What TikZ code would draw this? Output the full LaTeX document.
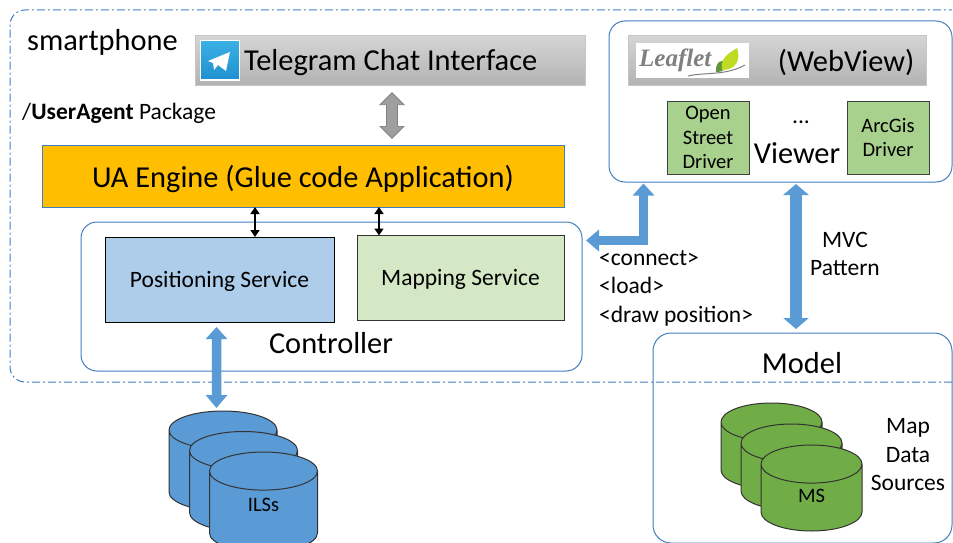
\documentclass[tikz,border=0pt]{standalone}
\usepackage{fontspec}
\setmainfont{Carlito}
\newfontfamily\logofont{Liberation Serif}
\usepackage{xcolor}
\usepackage{tikz}
\usetikzlibrary{positioning}
\usetikzlibrary{shapes,shapes.geometric,arrows.meta}
\definecolor{edgeblue}{HTML}{3F7FBF}
\definecolor{arrowblue}{HTML}{5B9BD5}
\definecolor{msgreen}{HTML}{70AD47}
\definecolor{drivergreen}{HTML}{A9D18E}
\definecolor{icontop}{HTML}{3BB0E3}
\definecolor{iconbot}{HTML}{1E90D0}
\newcommand{\bigtxt}{\fontsize{30.4}{34}\selectfont}
\newcommand{\midtxt}{\fontsize{23.5}{28.5}\selectfont}
\newcommand{\smalltxt}{\fontsize{20.5}{24.5}\selectfont}
\tikzstyle{block} = [rectangle, draw, inner sep=0pt, outer sep=0pt, text centered]
\tikzstyle{zone} = [block, draw=edgeblue, fill=white, rounded corners=16pt, line width=1pt]
\tikzstyle{bar} = [block, draw=gray!45, top color=gray!33, bottom color=gray!60, line width=1pt, minimum height=49pt]
\tikzstyle{driver} = [block, draw=black!75, fill=drivergreen, line width=1pt, minimum width=82pt, minimum height=73pt, align=center, font=\smalltxt]
\tikzstyle{service} = [block, line width=1pt, minimum height=85pt, font=\midtxt, text height=15pt, text depth=0pt]
\tikzstyle{db} = [cylinder, shape border rotate=90, anchor=shape center, draw=black!80, line width=1pt, inner sep=0pt, outer sep=0pt, aspect=1.22, font=\smalltxt]
\tikzstyle{dbils} = [db, fill=arrowblue, minimum width=108pt, minimum height=100pt]
\tikzstyle{dbms} = [db, fill=msgreen, minimum width=101pt, minimum height=86pt]
\tikzstyle{caption} = [inner sep=0pt, align=center]
\tikzstyle{line} = [draw, black, line width=1.4pt, {Triangle[length=7pt,width=9pt]}-{Triangle[length=7pt,width=9pt]}]
\tikzstyle{pipe} = [draw=arrowblue, line width=9.5pt, {Triangle[length=12pt,width=21pt]}-{Triangle[length=13pt,width=21pt]}]
\tikzstyle{bigpipe} = [draw=arrowblue, line width=12pt, {Triangle[length=11pt,width=25pt]}-{Triangle[length=11pt,width=25pt]}]

\begin{document}
\begin{tikzpicture}[x=1pt, y=-1pt]
\useasboundingbox (0,0) rectangle (953,543);
    % nodes
\node [zone, minimum width=343pt, minimum height=161pt] (viewer) at (780.5,101.5) {};
\node [zone, rounded corners=18pt, minimum width=299pt, minimum height=210pt] (model) at (802.5,438) {};
\draw [edgeblue, line width=1pt, dash pattern=on 8pt off 3pt on 2pt off 3pt, rounded corners=15pt] (952,382) -- (10,382) -- (10,10) -- (952,10);
\node [bar, minimum width=390pt] (chat) at (390,60.5) {};
\node [bar, minimum width=298pt] (webview) at (777,60.5) {};
\node [block, draw=white, line width=1pt, top color=icontop, bottom color=iconbot, minimum width=39pt, minimum height=39pt] (tgicon) at (219.5,60.5) {};
\fill [white] (208,61) -- (230,52) -- (226,71) -- (218,65) -- (214,70) -- (213,63) -- cycle;
\node [caption, font=\bigtxt, right=5pt of tgicon, yshift=-2.5pt] (chattxt) {Telegram Chat Interface};
\node [block, draw=none, fill=white, minimum width=113pt, minimum height=35pt] (leaflet) at (692.5,60.5) {};
\node [caption, anchor=west, text=gray, font=\logofont\bfseries\itshape\fontsize{25}{28}\selectfont] (leaflettxt) at (639,60) {Leaflet};
\fill [msgreen!85!black] (716,72) .. controls (715,62) and (722,58) .. (729,62) .. controls (728,68) and (724,72) .. (716,72) -- cycle;
\fill [msgreen!45!yellow] (722,70) .. controls (720,58) and (728,54) .. (737,48) .. controls (741,60) and (736,70) .. (722,70) -- cycle;
\draw [gray, line width=1pt] (688,76) .. controls (705,72) and (725,76) .. (745,65);
\node [caption, font=\bigtxt] (webtxt) at (846,62) {(WebView)};
\node [driver] (osm) at (708,137.5) {Open\\Street\\Driver};
\node [driver, right=98pt of osm] (arcgis) {ArcGis\\Driver};
\node [caption, font=\bigtxt] (viewertxt) at (797,153) {Viewer};
\node [caption, font=\midtxt] (dots) at (801,122) {...};
\node [caption, anchor=west, font=\bigtxt] (phonetxt) at (27,42) {smartphone};
\node [caption, anchor=west, font=\midtxt] (pkg) at (22,113) {/\textbf{UserAgent} Package};
\node [block, draw=edgeblue, fill=orange!50!yellow, line width=1pt, minimum width=522pt, minimum height=62pt, font=\bigtxt, text height=22pt, text depth=0pt] (engine) at (303,176) {UA Engine (Glue code Application)};
\node [zone, minimum width=501pt, minimum height=149pt] (controller) at (331.5,296.5) {};
\node [service, draw=black, fill=arrowblue!50, minimum width=229pt] (pos) at (219.5,279.5) {Positioning Service};
\node [service, draw=black!80, fill=drivergreen!50, minimum width=207pt, right=23pt of pos, yshift=1.5pt] (map) {Mapping Service};
\node [caption, font=\bigtxt] (ctrltxt) at (331,343) {Controller};
\node [dbils] (ils1) at (223,461) {\phantom{ILSs}};
\node [dbils] (ils2) at (243.5,481.5) {\phantom{ILSs}};
\node [dbils] (ils3) at (263.5,502) {\phantom{ILSs}};
\node [caption, font=\smalltxt] (ilstxt) at (263.5,505) {ILSs};
\node [dbms] (ms1) at (771.5,446) {\phantom{ILSs}};
\node [dbms] (ms2) at (791.5,467) {\phantom{ILSs}};
\node [dbms] (ms3) at (811.5,488) {\phantom{ILSs}};
\node [caption, font=\smalltxt] (mstxt) at ([yshift=-8pt]ms3.shape center) {MS};
\node [caption, font=\bigtxt] (modeltxt) at (802,363) {Model};
\node [caption, font=\midtxt, text width=80pt, inner sep=0pt] (maptxt) at (908,455) {Map\\Data\\Sources};
\node [caption, anchor=west, font=\midtxt, align=left] (msgtxt) at (599,288) {<connect>\\<load>\\<draw position>};
\node [caption, font=\midtxt] (mvctxt) at (845,254) {MVC\\Pattern};
\coordinate (chatdrop) at (392,0);
\coordinate (bendpt) at (643.5,240.5);

%edges
\draw [draw=black!50, line width=12pt, {Triangle[length=13pt,width=25pt]}-{Triangle[length=13pt,width=25pt]}, shorten <=7pt, shorten >=6pt] (chat.south -| chatdrop) -- (engine.north -| chatdrop);
\draw [draw=gray!75, line width=10pt, {Triangle[length=11pt,width=21pt]}-{Triangle[length=11pt,width=21pt]}, shorten <=8.5pt, shorten >=7.5pt] (chat.south -| chatdrop) -- (engine.north -| chatdrop);
\path [line] ([xshift=-48pt]engine.south) -- ([xshift=35.5pt]pos.north);
\path [line] ([xshift=76pt]engine.south) -- ([xshift=-81.5pt]map.north);
\draw [pipe, shorten <=5pt, shorten >=3pt] ([xshift=-3pt]pos.south) -- ([xshift=-6.5pt]ils1.north);
\draw [pipe, miter limit=10, shorten <=1.5pt, shorten >=4pt] (viewer.south -| bendpt) -- (bendpt) -- (controller.east |- bendpt);
\draw [bigpipe, shorten <=2pt, shorten >=4pt] ([xshift=15.5pt]viewer.south) -- ([xshift=-6.5pt]model.north);
\end{tikzpicture}
\end{document}
